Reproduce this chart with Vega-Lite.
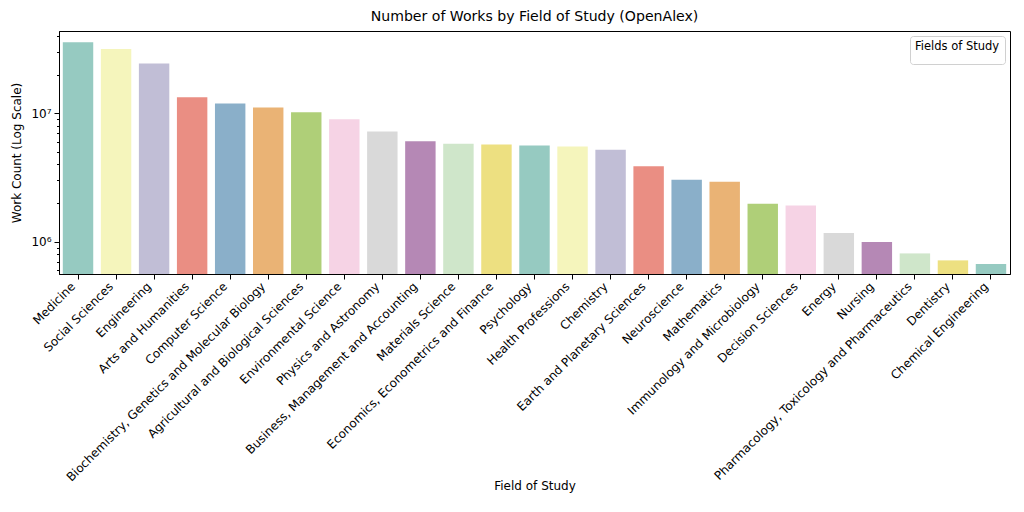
{
  "$schema": "https://vega.github.io/schema/vega-lite/v6.json",
  "autosize": {"type": "none"},
  "padding": {"left": 59, "top": 31, "right": 14, "bottom": 238},
  "width": 951,
  "height": 243,
  "background": "white",
  "config": {
    "font": "DejaVu Sans",
    "view": {"stroke": "black", "strokeWidth": 1}
  },
  "title": {
    "text": "Number of Works by Field of Study (OpenAlex)",
    "fontSize": 14.1,
    "fontWeight": "normal",
    "font": "DejaVu Sans",
    "color": "black",
    "offset": 7,
    "anchor": "middle"
  },
  "data": {
    "values": [
      {"field": "Medicine", "count": 35700000},
      {"field": "Social Sciences", "count": 31600000},
      {"field": "Engineering", "count": 24400000},
      {"field": "Arts and Humanities", "count": 13300000},
      {"field": "Computer Science", "count": 11900000},
      {"field": "Biochemistry, Genetics and Molecular Biology", "count": 11100000},
      {"field": "Agricultural and Biological Sciences", "count": 10200000},
      {"field": "Environmental Science", "count": 8970000},
      {"field": "Physics and Astronomy", "count": 7200000},
      {"field": "Business, Management and Accounting", "count": 6040000},
      {"field": "Materials Science", "count": 5800000},
      {"field": "Economics, Econometrics and Finance", "count": 5720000},
      {"field": "Psychology", "count": 5620000},
      {"field": "Health Professions", "count": 5520000},
      {"field": "Chemistry", "count": 5200000},
      {"field": "Earth and Planetary Sciences", "count": 3870000},
      {"field": "Neuroscience", "count": 3030000},
      {"field": "Mathematics", "count": 2930000},
      {"field": "Immunology and Microbiology", "count": 1970000},
      {"field": "Decision Sciences", "count": 1910000},
      {"field": "Energy", "count": 1170000},
      {"field": "Nursing", "count": 995000},
      {"field": "Pharmacology, Toxicology and Pharmaceutics", "count": 810000},
      {"field": "Dentistry", "count": 715000},
      {"field": "Chemical Engineering", "count": 670000}
    ]
  },
  "mark": {"type": "bar"},
  "encoding": {
    "x": {
      "field": "field",
      "type": "nominal",
      "sort": null,
      "scale": {"paddingInner": 0.2, "paddingOuter": 0.1},
      "axis": {
        "title": "Field of Study",
        "titleFontSize": 12,
        "titleFontWeight": "normal",
        "titleColor": "black",
        "titlePadding": 6,
        "labelAngle": -45,
        "labelAlign": "right",
        "labelBaseline": "bottom",
        "labelFontSize": 12,
        "labelColor": "black",
        "labelPadding": 10,
        "labelLimit": 500,
        "tickColor": "black",
        "tickSize": 5,
        "domainColor": "black"
      }
    },
    "y": {
      "field": "count",
      "type": "quantitative",
      "stack": null,
      "scale": {"type": "log", "domain": [560000, 43700000], "nice": false},
      "axis": {
        "title": "Work Count (Log Scale)",
        "titleFontSize": 12,
        "titleFontWeight": "normal",
        "titleColor": "black",
        "titlePadding": 7,
        "grid": false,
        "values": [600000, 700000, 800000, 900000, 1000000, 2000000, 3000000, 4000000, 5000000, 6000000, 7000000, 8000000, 9000000, 10000000, 20000000, 30000000, 40000000],
        "labelExpr": "datum.value == 1000000 ? '10⁶' : datum.value == 10000000 ? '10⁷' : ''",
        "labelFontSize": 12,
        "labelColor": "black",
        "labelPadding": 3,
        "tickColor": "black",
        "tickSize": {"condition": {"test": "datum.value == 1000000 || datum.value == 10000000", "value": 5}, "value": 2.5},
        "domainColor": "black"
      }
    },
    "color": {
      "field": "field",
      "type": "nominal",
      "sort": null,
      "scale": {
        "range": ["#96cac1", "#f5f5bc", "#c1bed6", "#ea8e83", "#8aafc9", "#eab375", "#afcf78", "#f6d3e5", "#d9d9d9", "#b588b5", "#cfe6ca", "#ede081", "#96cac1", "#f5f5bc", "#c1bed6", "#ea8e83", "#8aafc9", "#eab375", "#afcf78", "#f6d3e5", "#d9d9d9", "#b588b5", "#cfe6ca", "#ede081", "#96cac1"]
      },
      "legend": {
        "values": [],
        "title": ["Fields of Study", " "],
        "titleFontSize": 11.5,
        "titleLineHeight": 6,
        "titleFontWeight": "normal",
        "titleColor": "black",
        "titlePadding": 0,
        "orient": "top-right",
        "offset": 5,
        "padding": 5,
        "strokeColor": "#d0d0d0",
        "fillColor": "white",
        "cornerRadius": 3
      }
    }
  }
}
